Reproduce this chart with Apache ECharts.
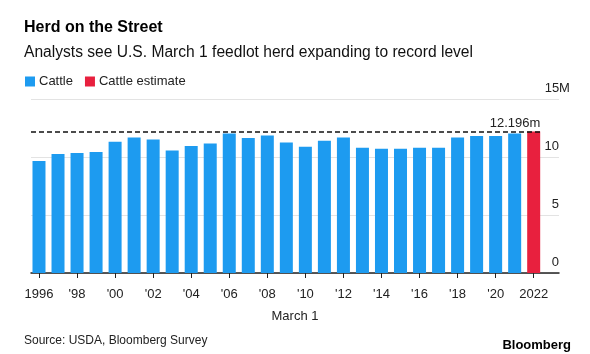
<!DOCTYPE html>
<html>
<head>
<meta charset="utf-8">
<script src="https://cdn.jsdelivr.net/npm/echarts@6/dist/echarts.min.js"></script>
<style>
  html, body { margin: 0; padding: 0; background: #fff; }
  #chart { width: 590px; height: 354px; }
</style>
</head>
<body>
<div id="chart"></div>
<script>
// years (March 1 of each year)
const years = [1996, 1997, 1998, 1999, 2000, 2001, 2002, 2003, 2004, 2005, 2006, 2007, 2008,
  2009, 2010, 2011, 2012, 2013, 2014, 2015, 2016, 2017, 2018, 2019, 2020, 2021];
// cattle on feed, millions
const cattle = [9.66, 10.26, 10.34, 10.43, 11.31, 11.68, 11.51, 10.57, 10.94, 11.17, 12.02, 11.63, 11.85,
  11.25, 10.88, 11.40, 11.68, 10.80, 10.71, 10.71, 10.80, 10.80, 11.68, 11.80, 11.80, 12.02];
const estimateYear = 2022;
const estimate = 12.196;
// x axis ticks
const tickYears = [1996, 1998, 2000, 2002, 2004, 2006, 2008, 2010, 2012, 2014, 2016, 2018, 2020, 2022];
const tickLabels = ['1996', "'98", "'00", "'02", "'04", "'06", "'08", "'10", "'12", "'14", "'16", "'18", "'20", '2022'];
// y axis ticks
const yTicks = [0, 5, 10, 15];

const FONT = 'Liberation Sans';
const xMin = 1995.58, xMax = 2023.33;

const chart = echarts.init(document.getElementById('chart'));

const option = {
  animation: false,
  textStyle: { fontFamily: FONT },
  title: [
    { text: 'Herd on the Street', left: 19, top: 15,
      textStyle: { fontSize: 16, fontWeight: 'bold', color: '#000', fontFamily: FONT } },
    { text: 'Analysts see U.S. March 1 feedlot herd expanding to record level', left: 19, top: 40,
      textStyle: { fontSize: 15.6, fontWeight: 'normal', color: '#111', fontFamily: FONT } },
    { text: 'Source: USDA, Bloomberg Survey', left: 19, top: 330,
      textStyle: { fontSize: 12, fontWeight: 'normal', color: '#222', fontFamily: FONT } },
    { text: 'Bloomberg', right: 14, top: 334,
      textStyle: { fontSize: 13, fontWeight: 'bold', color: '#000', fontFamily: FONT } }
  ],
  legend: {
    left: 20, top: 70,
    icon: 'rect', itemWidth: 10, itemHeight: 10, itemGap: 12,
    textStyle: { fontSize: 13, color: '#222', padding: [0, 0, 0, -1] },
    data: ['Cattle', 'Cattle estimate']
  },
  grid: { left: 31, right: 31, top: 99, bottom: 81 },
  xAxis: {
    type: 'value', min: xMin, max: xMax,
    name: 'March 1', nameLocation: 'middle', nameGap: 37,
    nameTextStyle: { fontSize: 13, color: '#222' },
    axisLine: { show: true, lineStyle: { color: '#222', width: 1.5 } },
    axisTick: { show: true, customValues: tickYears, length: 5, lineStyle: { color: '#222' } },
    axisLabel: {
      customValues: tickYears, fontSize: 13, color: '#222', margin: 15,
      formatter: v => tickLabels[tickYears.indexOf(v)]
    },
    splitLine: { show: false }
  },
  yAxis: {
    type: 'value', position: 'right', min: 0, max: 15, interval: 5,
    axisLine: { show: false }, axisTick: { show: false },
    splitLine: { lineStyle: { color: '#e3e3e3', width: 1 } },
    axisLabel: {
      inside: true, margin: 14, align: 'left', fontSize: 13, color: '#222',
      verticalAlign: 'bottom', padding: [0, 0, 4, 0],
      formatter: v => '{n|' + v + '}' + (v === yTicks[yTicks.length - 1] ? 'M' : ''),
      rich: { n: { width: 14, align: 'right', fontSize: 13, color: '#222' } }
    }
  },
  series: [
    {
      name: 'Cattle', type: 'bar', barWidth: 13, barGap: '-100%',
      itemStyle: { color: '#1d9bf0' },
      data: years.map((y, i) => [y, cattle[i]])
    },
    {
      name: 'Cattle estimate', type: 'bar', barWidth: 13, barGap: '-100%',
      itemStyle: { color: '#e8203e' },
      data: [[estimateYear, estimate]],
      markLine: {
        silent: true, symbol: 'none',
        lineStyle: { color: '#111', type: [5, 3], width: 1.5 },
        label: {
          position: 'insideEndTop', distance: [0, 2], fontSize: 13, color: '#222',
          formatter: () => estimate + 'm'
        },
        data: [[{ coord: [xMin, estimate] }, { coord: [estimateYear + 0.35, estimate] }]]
      }
    }
  ]
};

chart.setOption(option);
window.addEventListener('resize', () => chart.resize());
</script>
</body>
</html>
